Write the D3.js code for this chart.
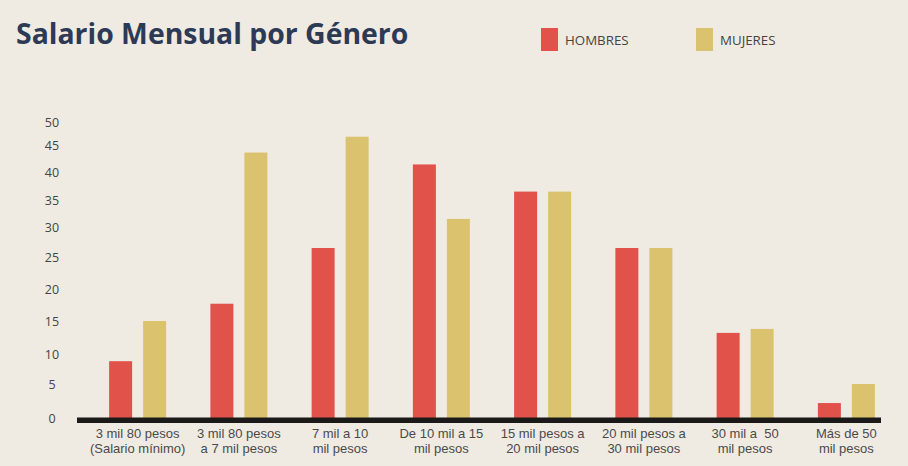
<!DOCTYPE html>
<html>
<head>
<meta charset="utf-8">
<script src="https://cdn.jsdelivr.net/npm/d3@7"></script>
<style>
  html, body { margin: 0; padding: 0; background: #efebe2; }
  svg { display: block; }
</style>
</head>
<body>
<div id="chart"></div>
<script>
// Salario mensual por género: grouped bars, hombres vs mujeres

const categories = [
  ["3 mil 80 pesos", "(Salario mínimo)"],
  ["3 mil 80 pesos", "a 7 mil pesos"],
  ["7 mil a 10", "mil pesos"],
  ["De 10 mil a 15", "mil pesos"],
  ["15 mil pesos a", "20 mil pesos"],
  ["20 mil pesos a", "30 mil pesos"],
  ["30 mil a  50", "mil pesos"],
  ["Más de 50", "mil pesos"]
];
const hombres = [8.8, 17.7, 26.5, 41.4, 36.5, 26.5, 13.2, 2.2];
const mujeres = [15, 43.6, 46.8, 31.5, 36.5, 26.5, 13.8, 5];
const seriesNames = ["HOMBRES", "MUJERES"];
const yTicks = [0, 5, 10, 15, 20, 25, 30, 35, 40, 45, 50];

const W = 908, H = 466;
const colors = { HOMBRES: "#e0524a", MUJERES: "#dbc26f" };

const svg = d3.select("#chart").append("svg")
  .attr("width", W).attr("height", H);

svg.append("rect").attr("width", W).attr("height", H).attr("fill", "#efebe2");

// the source's tick marks are not evenly spaced, so the scale follows them
const y = d3.scaleLinear()
  .domain(yTicks)
  .range([418, 384, 354, 321, 289, 257, 227, 200, 172, 145, 122]);

const keys = categories.map((c, i) => i);
const x0 = d3.scaleBand().domain(keys).range([87, 897]).padding(0);
const x1 = d3.scaleBand().domain(seriesNames).range([-28.5, 28.5]).paddingInner(0.3235);

const rows = keys.map(i => ({ i, HOMBRES: hombres[i], MUJERES: mujeres[i] }));

const groups = svg.append("g").selectAll("g")
  .data(rows)
  .join("g")
    .attr("transform", d => `translate(${x0(d.i) + x0.bandwidth() / 2},0)`);

groups.selectAll("rect")
  .data(d => seriesNames.map(k => ({ k, v: d[k] })))
  .join("rect")
    .attr("x", d => x1(d.k))
    .attr("width", x1.bandwidth())
    .attr("y", d => y(d.v))
    .attr("height", d => y(0) - y(d.v) + 1)
    .attr("fill", d => colors[d.k]);

// baseline bar
svg.append("rect")
  .attr("x", 77).attr("y", 417.5)
  .attr("width", 804).attr("height", 5.5)
  .attr("fill", "#1b1a18");

// y tick labels
svg.append("g").selectAll("text")
  .data(yTicks)
  .join("text")
    .attr("x", 52)
    .attr("y", d => y(d))
    .attr("dy", "0.36em")
    .attr("text-anchor", "middle")
    .attr("fill", "#444")
    .style("font-family", "'Open Sans', sans-serif")
    .style("font-size", "12.5px")
    .text(d => d);

// x labels, two tight lines (compact font so the lines can sit close)
const xl = svg.append("g").selectAll("text")
  .data(categories.map((c, i) => ({ c, i })))
  .join("text")
    .attr("text-anchor", "middle")
    .attr("fill", "#4a4a4a")
    .style("white-space", "pre")
    .style("font-family", "'Liberation Sans', Arial, sans-serif")
    .style("font-size", "13px");
xl.each(function(d) {
  const t = d3.select(this);
  const cx = x0(d.i) + x0.bandwidth() / 2;
  d.c.forEach((line, j) => {
    t.append("tspan").attr("x", cx).attr("y", 438 + j * 14.8).text(line);
  });
});

// title
svg.append("text")
  .attr("x", 16).attr("y", 44)
  .attr("fill", "#2d3a56")
  .style("font-family", "'Open Sans', sans-serif")
  .style("font-weight", "700")
  .style("font-size", "28.4px")
  .text("Salario Mensual por Género");

// legend
const legendX = [541, 696];
seriesNames.forEach((k, i) => {
  svg.append("rect")
    .attr("x", legendX[i]).attr("y", 28)
    .attr("width", 17).attr("height", 23)
    .attr("fill", colors[k]);
  svg.append("text")
    .attr("x", legendX[i] + 24).attr("y", 45)
    .attr("fill", "#444")
    .style("font-family", "'Open Sans', sans-serif")
    .style("font-size", "13.3px")
    .text(k);
});
</script>
</body>
</html>
